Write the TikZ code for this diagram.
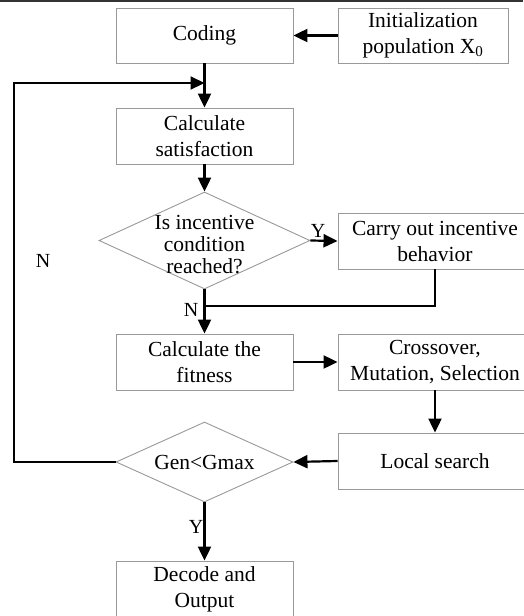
\documentclass[tikz,border=0pt]{standalone}
\usepackage{fontspec}
\setmainfont{Liberation Serif}
\usetikzlibrary{shapes.geometric,arrows.meta}
\tikzset{
  box/.style={draw=black!40, line width=0.9pt, rectangle, inner sep=0pt, align=center,
    font=\fontsize{21.5}{26}\selectfont},
  dia/.style={draw=black!40, line width=0.9pt, diamond, inner sep=0pt},
  diatext/.style={align=center, inner sep=0pt, font=\fontsize{21.5}{22}\selectfont},
  lbl/.style={inner sep=0pt, font=\fontsize{20}{22}\selectfont},
  arr/.style={line width=2.2pt, -{Triangle[length=14pt,width=13pt]}},
  ln/.style={line width=2.2pt}
}
\begin{document}
\begin{tikzpicture}[x=1pt,y=-1pt]
\useasboundingbox[fill=white] (0,0) rectangle (523,616);
\draw[line width=2.5pt, black!80] (0,1) -- (523,1);
\node[box, minimum width=177pt, minimum height=55pt] (coding) at (204.5,35.5) {Coding};
\node[box, minimum width=170pt, minimum height=55pt] (init) at (423,35.5) {Initialization\\population X\textsubscript{0}};
\node[box, minimum width=177pt, minimum height=56pt] (sat) at (204.5,136) {Calculate\\satisfaction};
\node[dia, minimum width=211pt, minimum height=97pt] (d1) at (204.5,240.5) {};
\node[diatext] (d1t) at (204.5,245) {Is incentive\\condition\\reached?};
\node[box, minimum width=194pt, minimum height=56pt] (carry) at (435,241) {Carry out incentive\\behavior};
\node[box, minimum width=177pt, minimum height=56pt] (fit) at (204.5,362) {Calculate the\\fitness};
\node[box, minimum width=194pt, minimum height=56pt] (cross) at (435,362) {Crossover,\\Mutation, Selection};
\node[box, minimum width=194pt, minimum height=56pt] (local) at (435,461) {Local search};
\node[dia, minimum width=177pt, minimum height=80pt] (d2) at (204.5,462) {};
\node[diatext] (d2t) at (d2.center) {Gen<Gmax};
\node[box, minimum width=177pt, minimum height=56pt] (decode) at (204.5,589) {Decode and\\Output};
\coordinate (j1) at (204.5,306);
\coordinate (lp1) at (14,462);
\coordinate (lp2) at (14,83);
\coordinate (lp3) at (204.5,83);
\draw[arr] (init.west) -- (coding.east);
\draw[arr] (coding.south) -- (sat.north);
\draw[arr] (sat.south) -- (d1.north);
\draw[arr] (d1.east) -- (carry.west);
\draw[ln] (carry.south) |- (j1);
\draw[arr] (d1.south) -- (fit.north);
\draw[arr] (fit.east) -- (cross.west);
\draw[arr] (cross.south) -- (local.north);
\draw[arr] (local.west) -- (d2.east);
\draw[arr] (d2.west) -- (lp1) -- (lp2) -- (lp3);
\draw[arr] (d2.south) -- (decode.north);
\node[lbl] (ly1) at (318,231) {Y};
\node[lbl] (ln1) at (191,310) {N};
\node[lbl] (ln2) at (43,261) {N};
\node[lbl] (ly2) at (196,527) {Y};
\end{tikzpicture}
\end{document}
